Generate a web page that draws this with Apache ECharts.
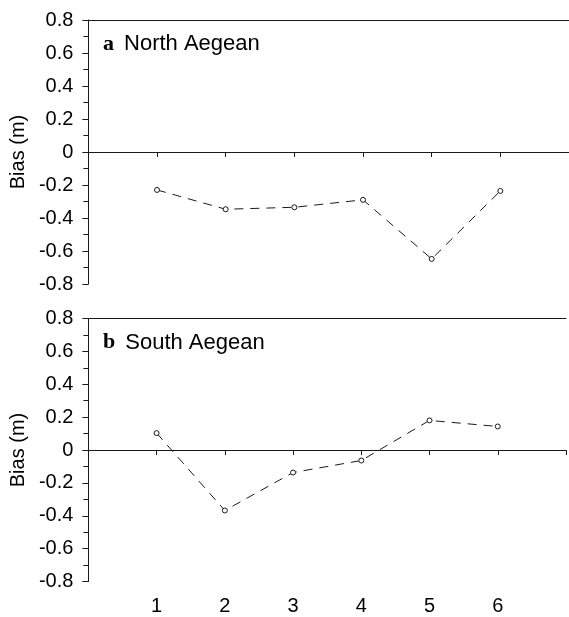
<!DOCTYPE html>
<html><head><meta charset="utf-8">
<script src="https://cdn.jsdelivr.net/npm/echarts@6/dist/echarts.min.js"></script>
<style>html,body{margin:0;padding:0;background:#fff}#c{width:569px;height:617px}</style>
</head><body><div id="c"></div>
<script>
const xValues = [1, 2, 3, 4, 5, 6];
const northAegean = [-0.23, -0.347, -0.335, -0.29, -0.648, -0.236];
const southAegean = [0.103, -0.368, -0.137, -0.064, 0.18, 0.143];
const xTickLabels = ['1', '2', '3', '4', '5', '6'];
const panelLetters = ['a', 'b'];
const panelNames = ['North Aegean', 'South Aegean'];

const FONT = 'Liberation Sans';
const chart = echarts.init(document.getElementById('c'), null, {renderer: 'canvas'});
const ink = '#1a1a1a';
const grids = [
  {left: 88, top: 20, width: 483, height: 264},
  {left: 88, top: 318.5, width: 483, height: 263}
];
function pair(d){ return xValues.map((x,i)=>[x,d[i]]); }
const datasets = [northAegean, southAegean];
const xAxes = [], yAxes = [], series = [], titles = [];
grids.forEach((g, gi) => {
  xAxes.push({
    type: 'value', gridIndex: gi, min: 0, max: 7, interval: 1, position: 'bottom',
    axisLine: {show: true, lineStyle: {color: ink, width: 1}},
    axisTick: {show: true, inside: false, length: 5, lineStyle: {color: ink}},
    axisLabel: {show: gi === 1, margin: 15, color: '#000', fontFamily: FONT, fontSize: 20,
      formatter: v => (v >= 1 && v <= 6) ? xTickLabels[v - 1] : ''},
    splitLine: {show: false}
  });
  xAxes.push({
    type: 'value', gridIndex: gi, min: 0, max: 7, position: 'top',
    axisLine: {show: true, onZero: false, lineStyle: {color: ink, width: 1}},
    axisTick: {show: false}, axisLabel: {show: false}, splitLine: {show: false}
  });
  yAxes.push({
    type: 'value', gridIndex: gi, min: -0.8, max: 0.8, interval: 0.2,
    name: 'Bias (m)', nameLocation: 'middle', nameGap: 57, nameRotate: 90,
    nameTextStyle: {color: '#000', fontFamily: FONT, fontSize: 20},
    axisLine: {show: true, lineStyle: {color: ink, width: 1}},
    axisTick: {show: true, length: 6, lineStyle: {color: ink}},
    minorTick: {show: true, splitNumber: 2, length: 5, lineStyle: {color: ink}},
    axisLabel: {margin: 15, color: '#000', fontFamily: FONT, fontSize: 20,
      formatter: v => { const r = Math.round(v * 10) / 10; return r === 0 ? '0' : r.toFixed(1); }},
    splitLine: {show: false}
  });
  series.push({
    type: 'line', xAxisIndex: gi * 2, yAxisIndex: gi, data: pair(datasets[gi]),
    symbol: 'circle', symbolSize: 5, showSymbol: true,
    lineStyle: {color: ink, width: 1, type: [9, 7]},
    itemStyle: {color: '#fff', borderColor: ink, borderWidth: 1},
    markLine: {silent: true, symbol: ['none', 'none'], label: {show: false},
      lineStyle: {color: ink, width: 1, type: 'solid'}, data: [{yAxis: 0}]},
    animation: false
  });
  titles.push({
    left: 98, top: g.top + 8,
    text: '{l|' + panelLetters[gi] + '}  {n|' + panelNames[gi] + '}',
    textStyle: {fontWeight: 'normal', rich: {
      l: {fontFamily: 'Liberation Serif', fontWeight: 'bold', fontSize: 22, color: '#000'},
      n: {fontFamily: FONT, fontWeight: 'normal', fontSize: 22, color: '#000'}
    }}
  });
});
chart.setOption({
  backgroundColor: '#fff',
  animation: false,
  title: titles,
  grid: grids,
  xAxis: xAxes,
  yAxis: yAxes,
  series: series
});
</script></body></html>
